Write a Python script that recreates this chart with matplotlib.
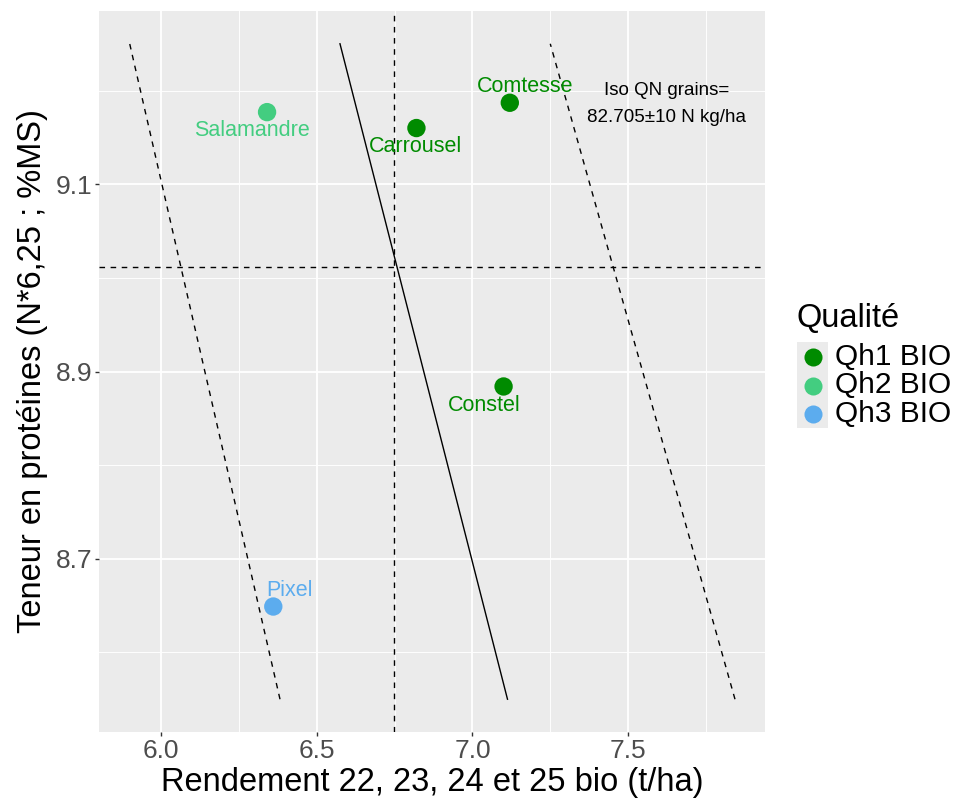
import matplotlib
matplotlib.use("Agg")
import matplotlib.pyplot as plt
from matplotlib.lines import Line2D
from matplotlib.patches import Rectangle
import numpy as np

plt.rcParams["font.family"] = ["Liberation Sans", "DejaVu Sans"]

# Varieties, quality class and mean yield / protein content
varietes = ["Comtesse", "Carrousel", "Salamandre", "Constel", "Pixel"]
qualite = ["Qh1 BIO", "Qh1 BIO", "Qh2 BIO", "Qh1 BIO", "Qh3 BIO"]
rendement = [7.12, 6.82, 6.34, 7.10, 6.36]
proteines = [9.187, 9.160, 9.177, 8.884, 8.649]

classes = ["Qh1 BIO", "Qh2 BIO", "Qh3 BIO"]
couleurs = {"Qh1 BIO": "#008B00", "Qh2 BIO": "#43CD80", "Qh3 BIO": "#5CACEE"}

# Iso grain-N curves: QN = yield * 0.85 (dry matter) * protein / 6.25 * 10
qn_ref = 82.705
qn_delta = 10 * 0.85
qn_offsets = [-qn_delta, 0.0, qn_delta]
qn_styles = [(0, (4, 4)), "-", (0, (4, 4))]
prot_span = [8.55, 9.25]
conv = 0.85 * 10 / 6.25

# label offsets (points) for the variety names
label_off = {
    "Comtesse": (11, 11.5),
    "Carrousel": (-1, -13.5),
    "Salamandre": (-11, -13),
    "Constel": (-14, -13.5),
    "Pixel": (11.5, 11.5),
}

fig = plt.figure(figsize=(9.59, 8.02), dpi=100)
ax = fig.add_axes([99 / 959, 1 - 732 / 802, (765 - 99) / 959, (732 - 11) / 802])

ax.set_facecolor("#EBEBEB")
for s in ax.spines.values():
    s.set_visible(False)

ax.set_xlim(5.80, 7.94)
ax.set_ylim(8.515, 9.285)
ax.set_xticks([6.0, 6.5, 7.0, 7.5])
ax.set_xticklabels(["6.0", "6.5", "7.0", "7.5"])
ax.set_yticks([8.7, 8.9, 9.1])
ax.set_yticklabels(["8.7", "8.9", "9.1"])
ax.set_xticks([6.25, 6.75, 7.25, 7.75], minor=True)
ax.set_yticks([8.6, 8.8, 9.0, 9.2], minor=True)
ax.grid(which="major", color="white", linewidth=1.3)
ax.grid(which="minor", color="white", linewidth=0.65)
ax.set_axisbelow(True)
ax.tick_params(which="major", length=3, width=1.0, color="#333333",
               labelsize=19, labelcolor="#4D4D4D", pad=2)
ax.tick_params(which="minor", length=0)

# iso-QN curves
prot = np.array(prot_span)
for d, ls in zip(qn_offsets, qn_styles):
    ax.plot((qn_ref + d) / (conv * prot), prot, color="black",
            linestyle=ls, linewidth=1.0, zorder=2)

# mean cross
ax.axvline(np.mean(rendement), color="black", linestyle=(0, (4, 4)),
           linewidth=1.0, zorder=2)
ax.axhline(np.mean(proteines), color="black", linestyle=(0, (4, 4)),
           linewidth=1.0, zorder=2)

# points and labels
for v, q, x, y in zip(varietes, qualite, rendement, proteines):
    c = couleurs[q]
    ax.scatter([x], [y], s=175, color=c, edgecolors="none", zorder=3)
    dx, dy = label_off[v]
    ax.annotate(v, (x, y), xytext=(dx, dy), textcoords="offset points",
                ha="center", va="center", fontsize=15.5, color=c, zorder=4)

ax.text(7.625, 9.1855, "Iso QN grains=\n82.705\u00b110 N kg/ha", ha="center",
        va="center", fontsize=13.5, color="black", linespacing=1.8)

ax.set_xlabel("Rendement 22, 23, 24 et 25 bio (t/ha)", fontsize=23.5,
              color="black", labelpad=3)
ax.set_ylabel("Teneur en protéines (N*6,25 ; %MS)", fontsize=23.5,
              color="black", labelpad=5)

# legend
W, H = 959, 802
fig.text(797 / W, 1 - 318 / H, "Qualité", fontsize=23.5, ha="left",
         va="center", color="black")
fig.add_artist(Rectangle((797 / W, 1 - 428 / H), 31 / W, 86 / H,
                         transform=fig.transFigure, facecolor="#EBEBEB",
                         edgecolor="none"))
for i, cl in enumerate(classes):
    yk = 1 - (357 + i * 28.5) / H
    fig.add_artist(Line2D([812.5 / W], [yk], marker="o", markersize=13,
                          markerfacecolor=couleurs[cl], markeredgecolor="none",
                          linestyle="none", transform=fig.transFigure))
    fig.text(835 / W, yk, cl, fontsize=21.5, ha="left", va="center",
             color="black")

fig.savefig("out.png", dpi=100, facecolor="white")
